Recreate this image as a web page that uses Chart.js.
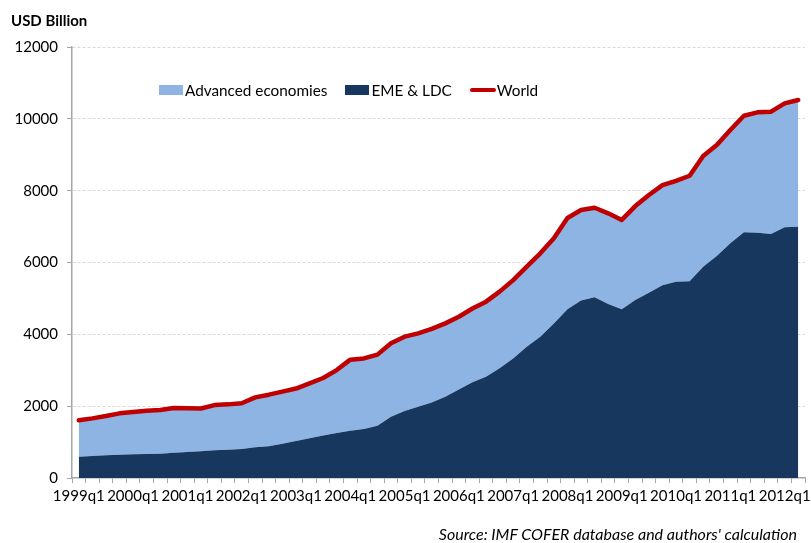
<!DOCTYPE html>
<html>
<head>
<meta charset="utf-8">
<script src="https://cdn.jsdelivr.net/npm/chart.js@4"></script>
<style>
  html, body { margin: 0; padding: 0; background: #fff; }
  #wrap { position: relative; width: 811px; height: 543px; font-family: Lato, "Liberation Sans", sans-serif; }
  #chart { position: absolute; left: 0; top: 0; }
  #yTitle { position: absolute; left: 11px; top: 11px; font-size: 15px; font-weight: bold; color: #000; }
  #source { position: absolute; right: 14px; top: 524px; font-size: 16px; font-style: italic; color: #000; }
  #legend { position: absolute; left: 159px; top: 81px; display: flex; font-size: 15.3px; color: #000; }
  .item { display: flex; align-items: center; margin-right: 18px; }
  .box { width: 24px; height: 10px; margin-right: 2px; }
  .ln { width: 26px; height: 4px; border-radius: 2px; margin-right: 1px; }
</style>
</head>
<body>
<div id="wrap">
  <canvas id="chart" width="811" height="543"></canvas>
  <div id="yTitle">USD Billion</div>
  <div id="legend"></div>
  <div id="source">Source: IMF COFER database and authors' calculation</div>
</div>
<script>
const quarters = [
  '1999q1','1999q2','1999q3','1999q4','2000q1','2000q2','2000q3','2000q4',
  '2001q1','2001q2','2001q3','2001q4','2002q1','2002q2','2002q3','2002q4',
  '2003q1','2003q2','2003q3','2003q4','2004q1','2004q2','2004q3','2004q4',
  '2005q1','2005q2','2005q3','2005q4','2006q1','2006q2','2006q3','2006q4',
  '2007q1','2007q2','2007q3','2007q4','2008q1','2008q2','2008q3','2008q4',
  '2009q1','2009q2','2009q3','2009q4','2010q1','2010q2','2010q3','2010q4',
  '2011q1','2011q2','2011q3','2011q4','2012q1','2012q2'
];

// EME & LDC reserves (bottom layer)
const emeLdc = [
  595, 612, 632, 650, 660, 668, 678, 705, 725, 742, 770, 790, 808, 855,
  882, 955, 1030, 1105, 1180, 1255, 1315, 1365, 1455, 1705, 1865, 1985,
  2105, 2265, 2465, 2665, 2820, 3055, 3330, 3655, 3935, 4305, 4695, 4945,
  5030, 4845, 4695, 4955, 5160, 5370, 5465, 5475, 5885, 6180, 6535, 6840,
  6830, 6795, 6980, 6995
];

// Advanced economies reserves (stacked on top)
const advanced = [
  1015, 1048, 1093, 1150, 1175, 1207, 1217, 1245, 1215, 1193, 1260, 1260,
  1272, 1390, 1438, 1450, 1460, 1530, 1605, 1750, 1980, 1965, 1980, 2045,
  2070, 2040, 2045, 2040, 2025, 2055, 2090, 2135, 2180, 2230, 2320, 2370,
  2545, 2515, 2495, 2525, 2490, 2615, 2720, 2785, 2810, 2940, 3080, 3090,
  3155, 3245, 3350, 3405, 3450, 3530
];

// World total
const world = [
  1610, 1660, 1725, 1800, 1835, 1875, 1895, 1950, 1940, 1935, 2030, 2050,
  2080, 2245, 2320, 2405, 2490, 2635, 2785, 3005, 3295, 3330, 3435, 3750,
  3935, 4025, 4150, 4305, 4490, 4720, 4910, 5190, 5510, 5885, 6255, 6675,
  7240, 7460, 7525, 7370, 7185, 7570, 7880, 8155, 8275, 8415, 8965, 9270,
  9690, 10085, 10180, 10200, 10430, 10525
];

const yTicks = [0, 2000, 4000, 6000, 8000, 10000, 12000];

const colAdv = '#8EB4E3';
const colEme = '#17375E';
const colWorld = '#C00000';
const axisGray = '#A6A6A6';
const font = { family: 'Lato, "Liberation Sans", sans-serif', size: 15 };

// legend
const legendItems = [
  { label: 'Advanced economies', color: colAdv, type: 'box' },
  { label: 'EME & LDC', color: colEme, type: 'box' },
  { label: 'World', color: colWorld, type: 'line' }
];
const legendDiv = document.getElementById('legend');
legendItems.forEach(it => {
  const el = document.createElement('div');
  el.className = 'item';
  const mark = document.createElement('span');
  mark.className = it.type === 'box' ? 'box' : 'ln';
  mark.style.background = it.color;
  const txt = document.createElement('span');
  txt.textContent = it.label;
  el.appendChild(mark);
  el.appendChild(txt);
  legendDiv.appendChild(el);
});

new Chart(document.getElementById('chart'), {
  type: 'line',
  data: {
    labels: quarters,
    datasets: [
      {
        label: 'EME & LDC',
        data: emeLdc,
        stack: 'parts',
        backgroundColor: colEme,
        borderWidth: 0,
        pointRadius: 0,
        fill: 'origin',
        tension: 0,
        order: 2
      },
      {
        label: 'Advanced economies',
        data: advanced,
        stack: 'parts',
        backgroundColor: colAdv,
        borderWidth: 0,
        pointRadius: 0,
        fill: '-1',
        tension: 0,
        order: 2
      },
      {
        label: 'World',
        data: world,
        stack: 'total',
        borderColor: colWorld,
        borderWidth: 4.5,
        borderCapStyle: 'round',
        borderJoinStyle: 'round',
        pointRadius: 0,
        fill: false,
        tension: 0,
        order: 0
      }
    ]
  },
  options: {
    responsive: false,
    animation: false,
    layout: { padding: { top: 47, right: 6, left: 0, bottom: 0 } },
    plugins: {
      legend: { display: false },
      tooltip: { enabled: false }
    },
    scales: {
      x: {
        type: 'category',
        offset: true,
        grid: {
          offset: true,
          drawOnChartArea: false,
          drawTicks: true,
          tickLength: 5,
          tickColor: axisGray
        },
        border: { color: axisGray, width: 1.5 },
        ticks: {
          autoSkip: false,
          maxRotation: 0,
          padding: 4,
          color: '#000',
          font: font,
          callback: function (v, i) { return i % 4 === 0 ? quarters[i] : ''; }
        },
        afterFit: s => { s.height = 65; }
      },
      y: {
        stacked: true,
        min: yTicks[0],
        max: yTicks[yTicks.length - 1],
        afterBuildTicks: s => { s.ticks = yTicks.map(v => ({ value: v })); },
        grid: {
          color: ctx => ctx.tick && ctx.tick.value === 0 ? 'rgba(0,0,0,0)' : '#D9D9D9',
          tickColor: axisGray,
          tickLength: 5
        },
        border: { color: axisGray, width: 1.5, dash: [3, 2] },
        ticks: {
          padding: 9,
          color: '#000',
          font: font,
          callback: v => String(v)
        },
        afterFit: s => { s.width = 72; }
      }
    }
  }
});
</script>
</body>
</html>
